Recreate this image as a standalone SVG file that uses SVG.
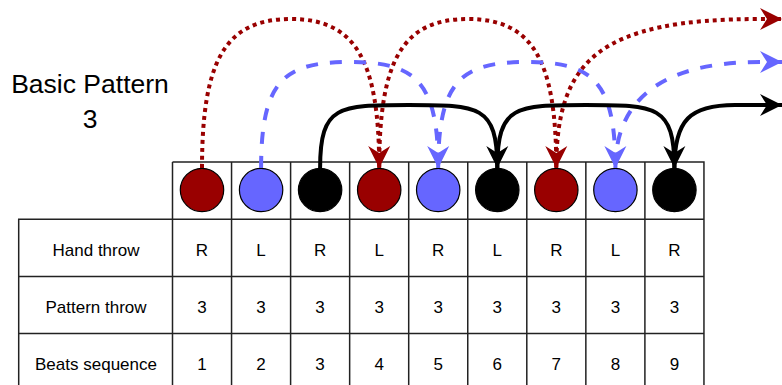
<svg xmlns="http://www.w3.org/2000/svg" width="782" height="385" viewBox="0 0 782 385">
<style>
.t{font-family:"Liberation Sans",Arial,sans-serif;fill:#000;text-anchor:middle}
.cell{font-size:17px}
.title{font-size:26.5px}
.grid{fill:none;stroke:#222;stroke-width:1.5}
.ball{stroke:#000;stroke-width:1.2}
.red{fill:#990000}.blue{fill:#6666FF}.black{fill:#000}
.c{fill:none;stroke-width:4;stroke-linecap:butt}
.cr{stroke:#990000;stroke-dasharray:4 4;marker-end:url(#ar)}
.cb{stroke:#6666FF;stroke-dasharray:12 12;marker-end:url(#ab)}
.ck{stroke:#000;marker-end:url(#ak)}
</style>
<defs>
<marker id="ar" viewBox="-23 -12 25 24" markerWidth="25" markerHeight="24" refX="0" refY="0" orient="auto" markerUnits="userSpaceOnUse"><path d="M0,0 L-22,-11 L-15,0 L-22,11 Z" fill="#990000" stroke="none"/></marker>
<marker id="ab" viewBox="-23 -12 25 24" markerWidth="25" markerHeight="24" refX="0" refY="0" orient="auto" markerUnits="userSpaceOnUse"><path d="M0,0 L-22,-11 L-15,0 L-22,11 Z" fill="#6666FF" stroke="none"/></marker>
<marker id="ak" viewBox="-23 -12 25 24" markerWidth="25" markerHeight="24" refX="0" refY="0" orient="auto" markerUnits="userSpaceOnUse"><path d="M0,0 L-22,-11 L-15,0 L-22,11 Z" fill="#000" stroke="none"/></marker>
</defs>
<rect width="782" height="385" fill="#fff"/>
<g id="title">
<text class="t title" x="90" y="93.3">Basic Pattern</text>
<text class="t title" x="90" y="128.3">3</text>
</g>
<g id="grid">
<path class="grid" d="M172.5,162H703.95V390.8H18.7V219.2H703.95M18.7,276.4H703.95M18.7,333.6H703.95M172.5,162V390.8M231.55,162V390.8M290.6,162V390.8M349.65,162V390.8M408.7,162V390.8M467.75,162V390.8M526.8,162V390.8M585.85,162V390.8M644.9,162V390.8"/>
</g>
<g id="labels">
<text class="t cell" x="96" y="256.3">Hand throw</text>
<text class="t cell" x="96" y="313.3">Pattern throw</text>
<text class="t cell" x="96" y="370.4">Beats sequence</text>
</g>
<g id="hand">
<text class="t cell" x="202" y="256.3">R</text>
<text class="t cell" x="261.1" y="256.3">L</text>
<text class="t cell" x="320.1" y="256.3">R</text>
<text class="t cell" x="379.2" y="256.3">L</text>
<text class="t cell" x="438.2" y="256.3">R</text>
<text class="t cell" x="497.3" y="256.3">L</text>
<text class="t cell" x="556.3" y="256.3">R</text>
<text class="t cell" x="615.4" y="256.3">L</text>
<text class="t cell" x="674.4" y="256.3">R</text>
</g>
<g id="pattern">
<text class="t cell" x="202" y="313.3">3</text>
<text class="t cell" x="261.1" y="313.3">3</text>
<text class="t cell" x="320.1" y="313.3">3</text>
<text class="t cell" x="379.2" y="313.3">3</text>
<text class="t cell" x="438.2" y="313.3">3</text>
<text class="t cell" x="497.3" y="313.3">3</text>
<text class="t cell" x="556.3" y="313.3">3</text>
<text class="t cell" x="615.4" y="313.3">3</text>
<text class="t cell" x="674.4" y="313.3">3</text>
</g>
<g id="beats">
<text class="t cell" x="202" y="370.4">1</text>
<text class="t cell" x="261.1" y="370.4">2</text>
<text class="t cell" x="320.1" y="370.4">3</text>
<text class="t cell" x="379.2" y="370.4">4</text>
<text class="t cell" x="438.2" y="370.4">5</text>
<text class="t cell" x="497.3" y="370.4">6</text>
<text class="t cell" x="556.3" y="370.4">7</text>
<text class="t cell" x="615.4" y="370.4">8</text>
<text class="t cell" x="674.4" y="370.4">9</text>
</g>
<g id="ball1"><circle class="ball red" cx="202" cy="190" r="21.7"/></g>
<g id="ball2"><circle class="ball blue" cx="261.1" cy="190" r="21.7"/></g>
<g id="ball3"><circle class="ball black" cx="320.1" cy="190" r="21.7"/></g>
<g id="ball4"><circle class="ball red" cx="379.2" cy="190" r="21.7"/></g>
<g id="ball5"><circle class="ball blue" cx="438.2" cy="190" r="21.7"/></g>
<g id="ball6"><circle class="ball black" cx="497.3" cy="190" r="21.7"/></g>
<g id="ball7"><circle class="ball red" cx="556.3" cy="190" r="21.7"/></g>
<g id="ball8"><circle class="ball blue" cx="615.4" cy="190" r="21.7"/></g>
<g id="ball9"><circle class="ball black" cx="674.4" cy="190" r="21.7"/></g>
<g id="connectors">
<path class="c cr" d="M202,168 C202,60 225.6,19 290.6,19 S379.2,60 379.2,168"/>
<path class="c cr" d="M379.2,168 C379.2,60 402.75,19 467.75,19 S556.3,60 556.3,168"/>
<path class="c cr" d="M556.3,168 C556.3,60 600,19 760,19 L782,19"/>
<path class="c cb" d="M261.1,168 C261.1,80 284.65,62 349.65,62 S438.2,80 438.2,168"/>
<path class="c cb" d="M438.2,168 C438.2,80 461.8,62 526.8,62 S615.4,80 615.4,168"/>
<path class="c cb" d="M615.4,168 C615.4,105 655,62 760,62 L782,62"/>
<path class="c ck" d="M320.1,168 C320.1,105 338.7,105 408.7,105 S497.3,105 497.3,168"/>
<path class="c ck" d="M497.3,168 C497.3,105 515.8,105 585.85,105 S674.4,105 674.4,168"/>
<path class="c ck" d="M674.4,168 C674.4,120 690,105 735,105 L782,105"/>
</g>
</svg>
